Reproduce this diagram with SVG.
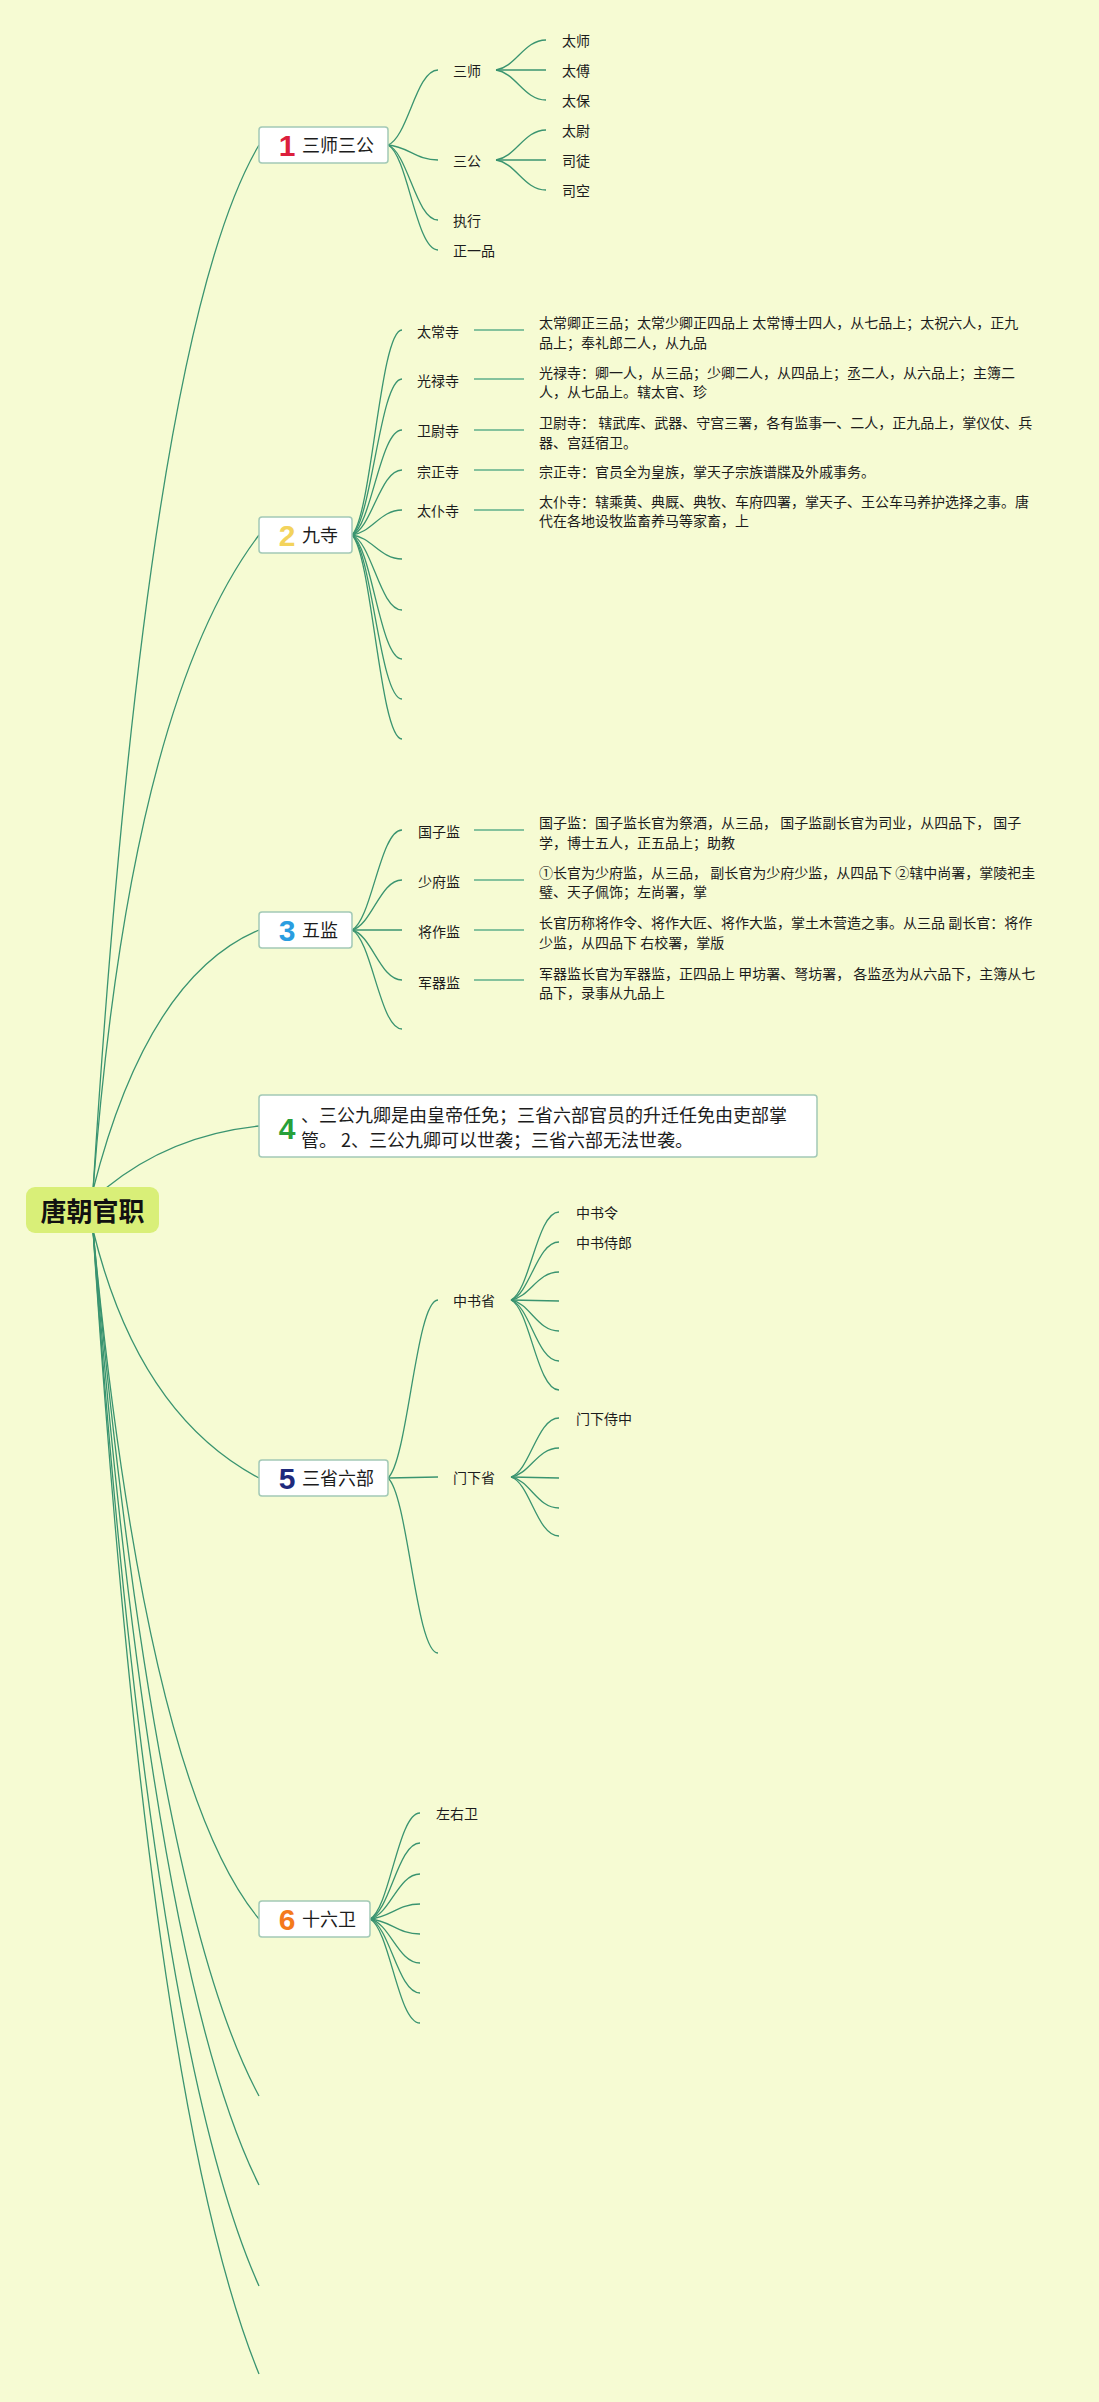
<svg xmlns="http://www.w3.org/2000/svg" width="1099" height="2402" viewBox="0 0 1099 2402">
<style>
.bg{fill:#f6fbd3}
.ln{fill:none;stroke:#3a9470;stroke-width:1.3}
.dl{fill:none;stroke:#84c29d;stroke-width:2}
.box{fill:#ffffff;stroke:#a2c9b6;stroke-width:1.5}
.root{fill:#d9ef78}
.t{font-family:"Noto Sans CJK SC","Liberation Sans",sans-serif;fill:#1c1c1c}
.s14{font-size:14px}
.s18{font-size:18px}
.rt{font-size:26px;font-weight:bold;fill:#111}
.num{font-family:"Liberation Sans","DejaVu Sans",sans-serif;font-size:30px;font-weight:bold;text-anchor:middle}
</style>
<rect class="bg" x="0" y="0" width="1099" height="2402"/>
<g id="connectors">
<!-- root -->
<path class="ln" d="M93,1190 Q147,334 259,145"/>
<path class="ln" d="M93,1190 Q130,705 259,535"/>
<path class="ln" d="M93,1190 Q147,977 259,930"/>
<path class="ln" d="M106,1188 Q171,1135 259,1126"/>
<path class="ln" d="M93,1230 Q138,1414 259,1478"/>
<path class="ln" d="M93,1230 Q146,1783 259,1919"/>
<path class="ln" d="M93,1230 Q154,1901 259,2096"/>
<path class="ln" d="M93,1230 Q152,1971 259,2185"/>
<path class="ln" d="M93,1230 Q150,2043 259,2286"/>
<path class="ln" d="M93,1230 Q150,2108 259,2374"/>
<!-- box 1 -->
<path class="ln" d="M388,145 C408,137.5 416,70 438,70"/>
<path class="ln" d="M388,145 C408,146.5 416,160 438,160"/>
<path class="ln" d="M388,145 C408,152.5 416,220 438,220"/>
<path class="ln" d="M388,145 C408,155.5 416,250 438,250"/>
<path class="ln" d="M496,70 C516,67 524,40 546,40"/>
<path class="ln" d="M496,70 L546,70"/>
<path class="ln" d="M496,70 C516,73 524,100 546,100"/>
<path class="ln" d="M496,160 C516,157 524,130 546,130"/>
<path class="ln" d="M496,160 L546,160"/>
<path class="ln" d="M496,160 C516,163 524,190 546,190"/>
<!-- box 2 -->
<path class="ln" d="M352,535 C372,514.5 380,330 402,330"/>
<path class="ln" d="M352,535 C372,519.5 380,379 402,379"/>
<path class="ln" d="M352,535 C372,524.5 380,430 402,430"/>
<path class="ln" d="M352,535 C372,528.5 380,470 402,470"/>
<path class="ln" d="M352,535 C372,532.5 380,510 402,510"/>
<path class="ln" d="M352,535 C372,537.4 380,559 402,559"/>
<path class="ln" d="M352,535 C372,542.5 380,610 402,610"/>
<path class="ln" d="M352,535 C372,547.4 380,659 402,659"/>
<path class="ln" d="M352,535 C372,551.4 380,699 402,699"/>
<path class="ln" d="M352,535 C372,555.4 380,739 402,739"/>
<path class="dl" d="M474,330 L524,330"/>
<path class="dl" d="M474,379 L524,379"/>
<path class="dl" d="M474,430 L524,430"/>
<path class="dl" d="M474,470 L524,470"/>
<path class="dl" d="M474,510 L524,510"/>
<!-- box 3 -->
<path class="ln" d="M352,930 C372,920 380,830 402,830"/>
<path class="ln" d="M352,930 C372,925 380,880 402,880"/>
<path class="ln" d="M352,930 L402,930"/>
<path class="ln" d="M352,930 C372,935 380,980 402,980"/>
<path class="ln" d="M352,930 C372,940 380,1029 402,1029"/>
<path class="dl" d="M474,830 L524,830"/>
<path class="dl" d="M474,880 L524,880"/>
<path class="dl" d="M474,930 L524,930"/>
<path class="dl" d="M474,980 L524,980"/>
<!-- box 5 -->
<path class="ln" d="M388,1478 C408,1460 416,1300 438,1300"/>
<path class="ln" d="M388,1478 L438,1477"/>
<path class="ln" d="M388,1478 C408,1495.5 416,1653 438,1653"/>
<path class="ln" d="M511,1300 C530,1291.2 537,1212 559,1212"/>
<path class="ln" d="M511,1300 C530,1294.2 537,1242 559,1242"/>
<path class="ln" d="M511,1300 C530,1297.2 537,1272 559,1272"/>
<path class="ln" d="M511,1300 L559,1301"/>
<path class="ln" d="M511,1300 C530,1303.1 537,1331 559,1331"/>
<path class="ln" d="M511,1300 C530,1306.1 537,1361 559,1361"/>
<path class="ln" d="M511,1300 C530,1309 537,1390 559,1390"/>
<path class="ln" d="M511,1477 C530,1471.1 537,1418 559,1418"/>
<path class="ln" d="M511,1477 C530,1474.1 537,1448 559,1448"/>
<path class="ln" d="M511,1477 L559,1478"/>
<path class="ln" d="M511,1477 C530,1480.1 537,1508 559,1508"/>
<path class="ln" d="M511,1477 C530,1482.9 537,1536 559,1536"/>
<!-- box 6 -->
<path class="ln" d="M370,1919 C390,1908.4 398,1813 420,1813"/>
<path class="ln" d="M370,1919 C390,1911.4 398,1843 420,1843"/>
<path class="ln" d="M370,1919 C390,1914.5 398,1874 420,1874"/>
<path class="ln" d="M370,1919 C390,1917.5 398,1904 420,1904"/>
<path class="ln" d="M370,1919 C390,1920.5 398,1934 420,1934"/>
<path class="ln" d="M370,1919 C390,1923.4 398,1963 420,1963"/>
<path class="ln" d="M370,1919 C390,1926.4 398,1993 420,1993"/>
<path class="ln" d="M370,1919 C390,1929.4 398,2023 420,2023"/>
</g>

<g id="root">
<rect class="root" x="26" y="1187" width="133" height="46" rx="9"/>
<text class="t rt" x="92.5" y="1221" text-anchor="middle">唐朝官职</text>
</g>

<g id="topic-1">
<rect class="box" x="259" y="127" width="129" height="36" rx="3"/>
<text class="num" x="287" y="156" fill="#dc1f3c">1</text>
<text class="t s18" x="302" y="152">三师三公</text>
</g>
<g id="t1-sanshi"><text class="t s14" x="453" y="76">三师</text></g>
<g id="t1-taishi"><text class="t s14" x="562" y="46">太师</text></g>
<g id="t1-taifu"><text class="t s14" x="562" y="76">太傅</text></g>
<g id="t1-taibao"><text class="t s14" x="562" y="106">太保</text></g>
<g id="t1-sangong"><text class="t s14" x="453" y="166">三公</text></g>
<g id="t1-taiwei"><text class="t s14" x="562" y="136">太尉</text></g>
<g id="t1-situ"><text class="t s14" x="562" y="166">司徒</text></g>
<g id="t1-sikong"><text class="t s14" x="562" y="196">司空</text></g>
<g id="t1-zhixing"><text class="t s14" x="453" y="226">执行</text></g>
<g id="t1-zhengyipin"><text class="t s14" x="453" y="256">正一品</text></g>

<g id="topic-2">
<rect class="box" x="259" y="517" width="93" height="36" rx="3"/>
<text class="num" x="287" y="546" fill="#f3d35c">2</text>
<text class="t s18" x="302" y="542">九寺</text>
</g>
<g id="t2-taichang">
<text class="t s14" x="417" y="336.5">太常寺</text>
<text class="t s14" x="539"><tspan x="539" y="327.5">太常卿正三品；太常少卿正四品上 太常博士四人，从七品上；太祝六人，正九</tspan><tspan x="539" y="347.5">品上；奉礼郎二人，从九品</tspan></text>
</g>
<g id="t2-guanglu">
<text class="t s14" x="417" y="386">光禄寺</text>
<text class="t s14" x="539"><tspan x="539" y="377.5">光禄寺：卿一人，从三品；少卿二人，从四品上；丞二人，从六品上；主簿二</tspan><tspan x="539" y="396.5">人，从七品上。辖太官、珍</tspan></text>
</g>
<g id="t2-weiwei">
<text class="t s14" x="417" y="436">卫尉寺</text>
<text class="t s14" x="539"><tspan x="539" y="427.5">卫尉寺： 辖武库、武器、守宫三署，各有监事一、二人，正九品上，掌仪仗、兵</tspan><tspan x="539" y="447.5">器、宫廷宿卫。</tspan></text>
</g>
<g id="t2-zongzheng">
<text class="t s14" x="417" y="476.5">宗正寺</text>
<text class="t s14" x="539" y="477">宗正寺：官员全为皇族，掌天子宗族谱牒及外戚事务。</text>
</g>
<g id="t2-taipu">
<text class="t s14" x="417" y="516">太仆寺</text>
<text class="t s14" x="539"><tspan x="539" y="506.5">太仆寺：辖乘黄、典厩、典牧、车府四署，掌天子、王公车马养护选择之事。唐</tspan><tspan x="539" y="526">代在各地设牧监畜养马等家畜，上</tspan></text>
</g>

<g id="topic-3">
<rect class="box" x="259" y="912" width="93" height="36" rx="3"/>
<text class="num" x="287" y="941" fill="#2a9de0">3</text>
<text class="t s18" x="302" y="937">五监</text>
</g>
<g id="t3-guozi">
<text class="t s14" x="418" y="837">国子监</text>
<text class="t s14" x="539"><tspan x="539" y="827.5">国子监：国子监长官为祭酒，从三品， 国子监副长官为司业，从四品下， 国子</tspan><tspan x="539" y="847.5">学，博士五人，正五品上；助教</tspan></text>
</g>
<g id="t3-shaofu">
<text class="t s14" x="418" y="886.5">少府监</text>
<text class="t s14" x="539"><tspan x="539" y="877.5">①长官为少府监，从三品， 副长官为少府少监，从四品下 ②辖中尚署，掌陵祀圭</tspan><tspan x="539" y="896.5">璧、天子佩饰；左尚署，掌</tspan></text>
</g>
<g id="t3-jiangzuo">
<text class="t s14" x="418" y="936.5">将作监</text>
<text class="t s14" x="539"><tspan x="539" y="927.5">长官历称将作令、将作大匠、将作大监，掌土木营造之事。从三品 副长官：将作</tspan><tspan x="539" y="947.5">少监，从四品下 右校署，掌版</tspan></text>
</g>
<g id="t3-junqi">
<text class="t s14" x="418" y="987.5">军器监</text>
<text class="t s14" x="539"><tspan x="539" y="978.5">军器监长官为军器监，正四品上 甲坊署、弩坊署， 各监丞为从六品下，主簿从七</tspan><tspan x="539" y="997.5">品下，录事从九品上</tspan></text>
</g>

<g id="topic-4">
<rect class="box" x="259" y="1095" width="558" height="62" rx="3"/>
<text class="num" x="287" y="1139" fill="#27a03a">4</text>
<text class="t s18"><tspan x="301" y="1121.5">、三公九卿是由皇帝任免；三省六部官员的升迁任免由吏部掌</tspan><tspan x="301" y="1146.5">管。 2、三公九卿可以世袭；三省六部无法世袭。</tspan></text>
</g>

<g id="topic-5">
<rect class="box" x="259" y="1460" width="129" height="36" rx="3"/>
<text class="num" x="287" y="1489" fill="#1e2a7c">5</text>
<text class="t s18" x="302" y="1485">三省六部</text>
</g>
<g id="t5-zhongshu"><text class="t s14" x="453" y="1305.5">中书省</text></g>
<g id="t5-zhongshuling"><text class="t s14" x="576" y="1217.5">中书令</text></g>
<g id="t5-zhongshushilang"><text class="t s14" x="576" y="1247.5">中书侍郎</text></g>
<g id="t5-menxia"><text class="t s14" x="453" y="1482.5">门下省</text></g>
<g id="t5-menxiashizhong"><text class="t s14" x="576" y="1423.5">门下侍中</text></g>

<g id="topic-6">
<rect class="box" x="259" y="1901" width="111" height="36" rx="3"/>
<text class="num" x="287" y="1930" fill="#f47a1c">6</text>
<text class="t s18" x="302" y="1926">十六卫</text>
</g>
<g id="t6-zuoyouwei"><text class="t s14" x="436" y="1818.5">左右卫</text></g>
</svg>
